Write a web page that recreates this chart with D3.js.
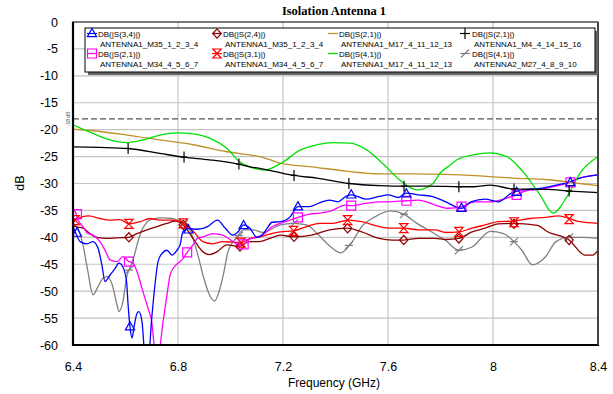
<!DOCTYPE html>
<html><head><meta charset="utf-8">
<script src="https://cdn.jsdelivr.net/npm/d3@7"></script>
<style>body{margin:0;background:#fff}svg{display:block}</style>
</head><body>
<svg id="chart" width="613" height="394"></svg>
<script>
// ---------- data ----------
const chartTitle = "Isolation Antenna 1";
const xTicks = [6.4, 6.8, 7.2, 7.6, 8.0, 8.4];
const xTickLabels = ["6.4", "6.8", "7.2", "7.6", "8", "8.4"];
const yTicks = [0, -5, -10, -15, -20, -25, -30, -35, -40, -45, -50, -55, -60];
const yTickLabels = ["0", "-5", "-10", "-15", "-20", "-25", "-30", "-35", "-40", "-45", "-50", "-55", "-60"];
const refLevel = -18;
const refLabel = "-18 dB";

// S(3,4) ANTENNA1_M35 (blue)
const s34M35F = [6.4,6.408,6.427,6.453,6.476,6.495,6.51,6.522,6.541,6.56,6.575,6.59,6.604,6.61,6.617,6.625,6.632,6.644,6.651,6.663,6.674,6.686,6.70,6.712,6.724,6.739,6.758,6.777,6.796,6.808,6.819,6.84,6.875,6.913,6.95,6.98,7.008,7.03,7.05,7.074,7.1,7.12,7.14,7.158,7.189,7.227,7.257,7.3,7.339,7.377,7.408,7.44,7.46,7.516,7.566,7.6,7.64,7.67,7.716,7.766,7.82,7.857,7.88,7.916,7.97,8.02,8.07,8.13,8.18,8.24,8.28,8.33,8.4];
const s34M35Db = [-38.0,-38.9,-40.8,-41.2,-40.8,-42.0,-45.1,-48.2,-47.0,-45.8,-44.8,-45.5,-48.2,-52.6,-56.6,-58.7,-56.8,-54.1,-53.8,-55.7,-62,-63,-55.0,-48.9,-44.5,-43.0,-42.4,-43.3,-42.4,-41.4,-38.9,-38.4,-38.5,-38.0,-36.8,-38.3,-39.6,-38.9,-37.7,-38.3,-40.0,-39.6,-38.3,-37.2,-37.1,-36.2,-34.3,-34.3,-33.6,-33.1,-33.4,-32.4,-32.1,-32.9,-32.4,-32.1,-32.6,-31.8,-32.1,-32.4,-33.4,-34.3,-34.6,-33.4,-32.9,-33.4,-31.8,-31.1,-30.9,-30.3,-29.9,-29.0,-28.4];
const s34M35MarkF = [6.415,6.617,6.84,7.05,7.257,7.46,7.67,7.88,8.09,8.295];
const s34M35MarkDb = [-39.2,-56.6,-38.6,-37.8,-34.3,-32.1,-31.9,-34.6,-31.6,-29.8];

// S(2,4) ANTENNA1_M35 (dark red)
const s24M35F = [6.4,6.408,6.438,6.465,6.49,6.53,6.568,6.613,6.644,6.682,6.72,6.758,6.789,6.82,6.857,6.895,6.92,6.948,6.986,7.03,7.074,7.11,7.15,7.19,7.24,7.31,7.377,7.446,7.5,7.566,7.617,7.66,7.716,7.78,7.82,7.87,7.92,7.97,8.02,8.07,8.12,8.17,8.21,8.29,8.35,8.38,8.4];
const s24M35Db = [-37.5,-38.0,-38.3,-39.3,-40.0,-40.2,-40.1,-40.0,-39.3,-38.6,-38.0,-37.4,-37.0,-37.7,-40.2,-42.7,-43.2,-42.7,-41.4,-41.7,-40.8,-40.8,-40.2,-39.6,-39.9,-39.6,-38.6,-38.3,-39.0,-40.2,-40.5,-40.5,-40.2,-40.2,-40.4,-40.2,-39.0,-38.3,-37.5,-37.4,-37.5,-37.8,-39.0,-40.5,-43.3,-43.3,-42.4];
const s24M35MarkF = [6.613,6.82,7.036,7.242,7.446,7.66,7.87,8.08,8.29];
const s24M35MarkDb = [-40.0,-37.7,-41.7,-39.9,-38.3,-40.5,-40.2,-37.5,-40.5];

// S(2,1) ANTENNA1_M17 (gold)
const s21M17F = [6.4,6.476,6.606,6.731,6.857,6.987,7.074,7.112,7.189,7.31,7.44,7.57,7.69,7.82,7.95,8.08,8.21,8.33,8.4];
const s21M17Db = [-19.9,-20.2,-21.0,-21.9,-22.8,-24.1,-24.7,-25.0,-26.2,-26.9,-27.7,-28.2,-28.2,-28.3,-28.6,-29.0,-29.3,-30.0,-30.4];

// S(2,1) ANTENNA1_M4 (black)
const s21M4F = [6.4,6.5,6.61,6.73,6.82,6.92,7.03,7.074,7.112,7.189,7.242,7.33,7.451,7.57,7.661,7.76,7.874,7.93,7.989,8.076,8.206,8.293,8.4];
const s21M4Db = [-23.2,-23.3,-23.5,-24.4,-25.1,-25.6,-26.4,-26.9,-27.2,-28.0,-28.5,-29.0,-30.0,-30.4,-30.5,-30.5,-30.6,-30.6,-30.3,-31.0,-31.1,-31.4,-31.7];
const s21M4MarkF = [6.61,6.823,7.032,7.242,7.451,7.661,7.87,8.08,8.29];
const s21M4MarkDb = [-23.5,-25.1,-26.4,-28.5,-30.0,-30.5,-30.6,-31.0,-31.4];

// S(2,1) ANTENNA1_M34 (magenta)
const s21M34F = [6.4,6.408,6.419,6.438,6.457,6.476,6.503,6.522,6.541,6.568,6.59,6.613,6.629,6.644,6.663,6.674,6.686,6.70,6.712,6.724,6.743,6.758,6.77,6.789,6.80,6.82,6.835,6.857,6.876,6.895,6.933,6.97,7.01,7.03,7.05,7.07,7.1,7.13,7.16,7.189,7.227,7.257,7.3,7.34,7.377,7.44,7.46,7.516,7.566,7.6,7.67,7.716,7.78,7.83,7.88,7.93,7.99,8.04,8.09,8.13,8.18,8.23,8.28,8.33,8.4];
const s21M34Db = [-35.0,-35.2,-36.8,-38.0,-39.3,-39.6,-40.8,-42.4,-44.2,-44.5,-43.6,-44.5,-44.8,-46.4,-49.5,-51.3,-53.2,-55.7,-61,-62,-55.7,-50.7,-47.0,-45.3,-44.8,-43.9,-42.8,-41.4,-40.1,-39.9,-39.3,-39.6,-40.8,-41.4,-41.3,-40.4,-40.0,-39.3,-38.0,-37.4,-36.8,-36.3,-35.7,-35.5,-35.2,-34.0,-34.1,-33.7,-33.4,-33.4,-33.2,-33.1,-34.0,-34.6,-34.3,-33.4,-33.4,-32.9,-32.1,-31.3,-31.1,-30.6,-30.0,-29.0,-28.4];
const s21M34MarkF = [6.415,6.613,6.835,7.05,7.257,7.46,7.67,7.88,8.09,8.295];
const s21M34MarkDb = [-35.7,-44.5,-42.8,-41.3,-36.3,-34.1,-33.2,-34.3,-32.1,-29.8];

// S(3,1) ANTENNA1_M34 (red)
const s31M34F = [6.4,6.408,6.46,6.503,6.54,6.58,6.613,6.655,6.693,6.73,6.777,6.82,6.857,6.895,6.933,6.97,7.01,7.04,7.074,7.11,7.15,7.19,7.24,7.29,7.34,7.39,7.45,7.5,7.566,7.617,7.66,7.716,7.78,7.82,7.87,7.92,7.97,8.02,8.07,8.14,8.2,8.25,8.29,8.33,8.4];
const s31M34Db = [-37.5,-36.8,-36.0,-36.5,-36.8,-36.7,-37.5,-37.1,-36.5,-36.8,-36.8,-37.4,-38.8,-40.8,-41.2,-40.8,-40.9,-41.0,-40.2,-39.9,-39.4,-39.0,-38.8,-38.0,-37.4,-37.4,-36.8,-37.1,-38.0,-38.3,-38.3,-38.6,-38.6,-39.1,-39.0,-38.3,-37.7,-37.1,-37.0,-36.5,-36.3,-36.0,-36.5,-37.1,-37.4];
const s31M34MarkF = [6.408,6.613,6.82,7.04,7.24,7.446,7.66,7.87,8.08,8.29];
const s31M34MarkDb = [-36.8,-37.5,-37.4,-41.0,-38.8,-36.8,-38.3,-39.0,-37.2,-36.6];

// S(4,1) ANTENNA1_M17 (green)
const s41M17F = [6.4,6.476,6.541,6.606,6.667,6.731,6.796,6.857,6.922,6.987,7.036,7.074,7.131,7.2,7.265,7.33,7.39,7.455,7.52,7.58,7.646,7.71,7.771,7.798,7.836,7.863,7.924,7.989,8.053,8.114,8.179,8.229,8.282,8.331,8.4];
const s41M17Db = [-19.1,-20.7,-21.9,-22.4,-21.9,-21.0,-20.6,-20.8,-21.6,-23.5,-26.0,-26.9,-27.5,-26.0,-23.8,-22.8,-22.4,-22.5,-23.8,-26.3,-29.4,-31.2,-30.0,-28.1,-26.6,-25.6,-24.7,-24.3,-25.0,-27.8,-32.1,-35.5,-32.4,-28.1,-25.0];

// S(4,1) ANTENNA2_M27 (gray)
const s41M27F = [6.4,6.408,6.419,6.438,6.457,6.476,6.495,6.514,6.53,6.55,6.568,6.575,6.59,6.606,6.613,6.632,6.644,6.66,6.678,6.70,6.74,6.777,6.808,6.84,6.857,6.876,6.895,6.92,6.94,6.956,6.975,6.99,7.02,7.05,7.086,7.124,7.15,7.19,7.24,7.29,7.33,7.38,7.42,7.46,7.5,7.55,7.61,7.66,7.71,7.77,7.82,7.87,7.92,7.99,8.04,8.08,8.11,8.15,8.2,8.24,8.29,8.34,8.4];
const s41M27Db = [-37.5,-37.7,-38.3,-41.4,-46.4,-50.7,-49.2,-47.6,-47.3,-48.9,-52.6,-53.8,-52.0,-47.0,-46.1,-43.6,-41.4,-38.9,-37.4,-36.6,-36.4,-36.5,-37.0,-38.0,-40.2,-43.3,-47.0,-50.7,-51.8,-50.1,-46.4,-42.7,-40.2,-38.6,-38.6,-39.1,-38.6,-37.7,-37.4,-37.7,-39.3,-41.7,-42.9,-41.1,-38.0,-36.2,-35.1,-35.7,-37.4,-39.1,-40.6,-42.4,-41.8,-38.9,-39.3,-40.8,-42.4,-45.1,-43.6,-40.8,-40.0,-40.0,-40.2];
const s41M27MarkF = [6.613,6.823,7.032,7.242,7.451,7.661,7.87,8.08,8.29];
const s41M27MarkDb = [-46.1,-37.5,-39.7,-37.4,-41.5,-35.7,-42.4,-40.8,-40.0];

const legendLine1 = ["DB(|S(3,4)|)","DB(|S(2,1)|)","DB(|S(2,4)|)","DB(|S(3,1)|)","DB(|S(2,1)|)","DB(|S(4,1)|)","DB(|S(2,1)|)","DB(|S(4,1)|)"];
const legendLine2 = ["ANTENNA1_M35_1_2_3_4","ANTENNA1_M34_4_5_6_7","ANTENNA1_M35_1_2_3_4","ANTENNA1_M34_4_5_6_7","ANTENNA1_M17_4_11_12_13","ANTENNA1_M17_4_11_12_13","ANTENNA1_M4_4_14_15_16","ANTENNA2_M27_4_8_9_10"];

// ---------- styling / assembly ----------
const markerPaths = {
  tri: "M0,-5L4.6,3.2L-4.6,3.2Z",
  square: "M-4.5,-4.5h9v9h-9Z",
  hourglass: "M-4.2,-4.5H4.2L-4.2,4.5H4.2Z",
  diamond: "M0,-4.6L4.2,0L0,4.6L-4.2,0Z",
  plus: "M0,-5.5V5.5M-3,0H3",
  slash: "M-4,4L4,-4M-4,0H4",
  none: null
};
const series = [
  {f:s34M35F, db:s34M35Db, mf:s34M35MarkF, mdb:s34M35MarkDb, color:"#0000ff", marker:"tri"},
  {f:s21M34F, db:s21M34Db, mf:s21M34MarkF, mdb:s21M34MarkDb, color:"#ff00ff", marker:"square"},
  {f:s24M35F, db:s24M35Db, mf:s24M35MarkF, mdb:s24M35MarkDb, color:"#8c0000", marker:"diamond"},
  {f:s31M34F, db:s31M34Db, mf:s31M34MarkF, mdb:s31M34MarkDb, color:"#ff0000", marker:"hourglass"},
  {f:s21M17F, db:s21M17Db, mf:[], mdb:[], color:"#c0902a", marker:"none"},
  {f:s41M17F, db:s41M17Db, mf:[], mdb:[], color:"#00e000", marker:"none"},
  {f:s21M4F, db:s21M4Db, mf:s21M4MarkF, mdb:s21M4MarkDb, color:"#000000", marker:"plus"},
  {f:s41M27F, db:s41M27Db, mf:s41M27MarkF, mdb:s41M27MarkDb, color:"#808080", marker:"slash"}
];
const drawOrder = [7, 2, 3, 1, 0, 4, 5, 6];

const svg = d3.select("#chart");
const L = 73, R = 598, T = 22, B = 345;
const x = d3.scaleLinear().domain([6.4, 8.4]).range([L, R]);
const y = d3.scaleLinear().domain([-60, 0]).range([B, T]);
const font = "Arial, 'Liberation Sans', Helvetica, sans-serif";

svg.append("rect").attr("width", 613).attr("height", 394).attr("fill", "#fff");

// grid
svg.append("g").selectAll("line").data(yTicks.filter(d => d !== 0 && d !== -60)).join("line")
  .attr("x1", L).attr("x2", R).attr("y1", d => y(d)).attr("y2", d => y(d))
  .attr("stroke", "#c4c4c4").attr("stroke-width", 1.2);
svg.append("g").selectAll("line").data(xTicks.slice(1, -1)).join("line")
  .attr("y1", T).attr("y2", B).attr("x1", d => x(d)).attr("x2", d => x(d))
  .attr("stroke", "#c4c4c4").attr("stroke-width", 1.2);

// axes via d3
const yAxis = d3.axisLeft(y).tickValues(yTicks).tickFormat((d, i) => yTickLabels[i]).tickSize(0).tickPadding(15);
const gy = svg.append("g").attr("transform", `translate(${L},0)`).call(yAxis);
gy.select(".domain").remove();
gy.selectAll("text").attr("font-family", font).attr("font-size", 12.5).attr("fill", "#000");
const xAxis = d3.axisBottom(x).tickValues(xTicks).tickFormat((d, i) => xTickLabels[i]).tickSize(0).tickPadding(17);
const gx = svg.append("g").attr("transform", `translate(0,${B})`).call(xAxis);
gx.select(".domain").remove();
gx.selectAll("text").attr("font-family", font).attr("font-size", 12.5).attr("fill", "#000");

// reference line
svg.append("line").attr("x1", L).attr("x2", R).attr("y1", y(refLevel)).attr("y2", y(refLevel))
  .attr("stroke", "#555").attr("stroke-width", 1.3).attr("stroke-dasharray", "6,3");
svg.append("text").attr("transform", `translate(${L - 3},${y(refLevel)}) rotate(-90)`)
  .attr("text-anchor", "middle").attr("font-family", font).attr("font-size", 5).attr("fill", "#444").text(refLabel);

// clip
svg.append("clipPath").attr("id", "clip").append("rect").attr("x", L).attr("y", T).attr("width", R - L).attr("height", B - T);
const plot = svg.append("g").attr("clip-path", "url(#clip)");
const line = d3.line().x(d => x(d[0])).y(d => y(d[1])).curve(d3.curveMonotoneX);

drawOrder.forEach(i => {
  const s = series[i];
  const pts = s.f.map((f, k) => [f, s.db[k]]);
  plot.append("path").attr("d", line(pts)).attr("fill", "none").attr("stroke", s.color).attr("stroke-width", 1.3);
});
drawOrder.forEach(i => {
  const s = series[i];
  if (s.marker === "none") return;
  plot.append("g").selectAll("path").data(s.mf.map((f, k) => [f, s.mdb[k]])).join("path")
    .attr("transform", d => `translate(${x(d[0])},${y(d[1])})`)
    .attr("d", markerPaths[s.marker]).attr("fill", "none").attr("stroke", s.color).attr("stroke-width", 1.2);
});

// frame
svg.append("rect").attr("x", L).attr("y", T).attr("width", R - L).attr("height", B - T)
  .attr("fill", "none").attr("stroke", "#222").attr("stroke-width", 1.2);
svg.append("line").attr("x1", L).attr("x2", L).attr("y1", T).attr("y2", B + 1).attr("stroke", "#000").attr("stroke-width", 2.2);
svg.append("line").attr("x1", L - 1).attr("x2", R + 1).attr("y1", B).attr("y2", B).attr("stroke", "#000").attr("stroke-width", 2.2);
svg.append("line").attr("x1", R).attr("x2", R).attr("y1", T).attr("y2", B).attr("stroke", "#444").attr("stroke-width", 2);

// legend
const lg = svg.append("g");
const LX = 85, LY = 28, LW = 510, LH = 44;
lg.append("rect").attr("x", LX + 3).attr("y", LY + 3).attr("width", LW).attr("height", LH).attr("fill", "#666");
lg.append("rect").attr("x", LX).attr("y", LY).attr("width", LW).attr("height", LH).attr("fill", "#fff").attr("stroke", "#000").attr("stroke-width", 1);
const colMarkX = [92, 217, 334, 465];
const colTextX = [98, 223, 339, 472];
const rowY = [33.5, 53.5];
series.forEach((s, i) => {
  const c = Math.floor(i / 2), r = i % 2;
  const mx = colMarkX[c], my = rowY[r];
  if (s.marker === "none") {
    lg.append("line").attr("x1", mx - 6).attr("x2", mx + 4).attr("y1", my).attr("y2", my).attr("stroke", s.color).attr("stroke-width", 1.3);
  } else {
    lg.append("line").attr("x1", mx - 5).attr("x2", mx + 5).attr("y1", my).attr("y2", my).attr("stroke", s.color).attr("stroke-width", 1.2);
    lg.append("path").attr("transform", `translate(${mx},${my})`).attr("d", markerPaths[s.marker])
      .attr("fill", "none").attr("stroke", s.color).attr("stroke-width", 1.2);
  }
  lg.append("text").attr("x", colTextX[c]).attr("y", my + 3).attr("font-family", font).attr("font-size", 8).attr("fill", "#000").text(legendLine1[i]);
  lg.append("text").attr("x", colTextX[c] + 2).attr("y", my + 13).attr("font-family", font).attr("font-size", 8).attr("fill", "#000").text(legendLine2[i]);
});

// titles
svg.append("text").attr("x", 334).attr("y", 15).attr("text-anchor", "middle")
  .attr("font-family", "'Liberation Serif', 'Times New Roman', serif").attr("font-weight", "bold").attr("font-size", 12.5).text(chartTitle);
svg.append("text").attr("x", 334).attr("y", 387).attr("text-anchor", "middle")
  .attr("font-family", font).attr("font-size", 12).text("Frequency (GHz)");
svg.append("text").attr("transform", "translate(24,183) rotate(-90)").attr("text-anchor", "middle")
  .attr("font-family", font).attr("font-size", 12.5).text("dB");
</script>
</body></html>
